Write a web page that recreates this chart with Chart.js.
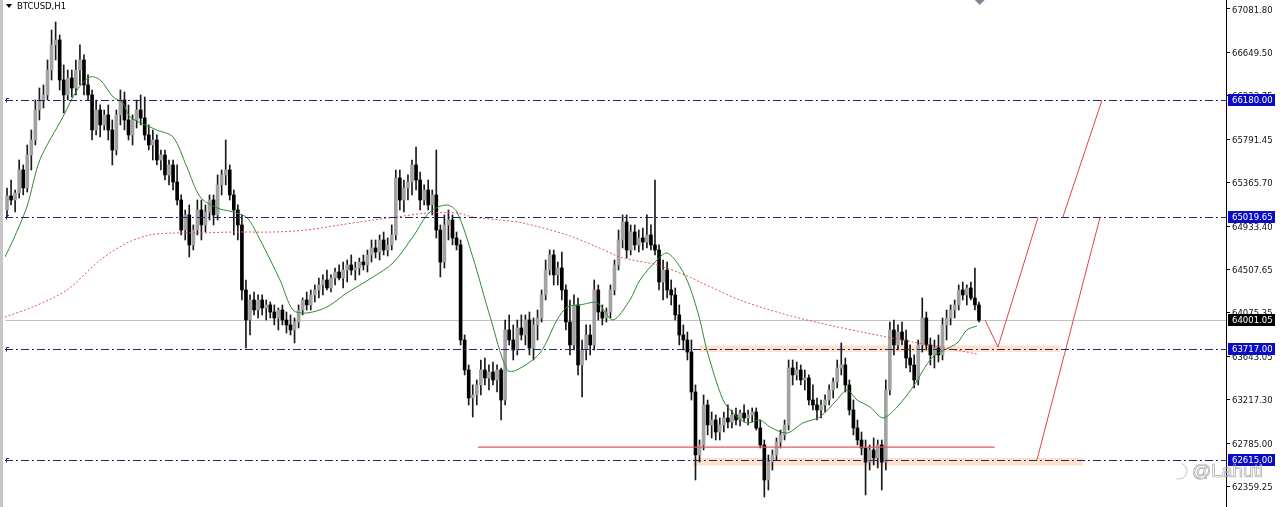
<!DOCTYPE html>
<html lang="en">
<head>
<meta charset="UTF-8">
<title>BTCUSD,H1</title>
<script src="https://cdn.jsdelivr.net/npm/chart.js"></script>
<style>
  html, body { margin: 0; padding: 0; background: #fff; }
  #wrap { width: 1280px; height: 507px; position: relative; }
</style>
</head>
<body>
<div id="wrap"><canvas id="chart"></canvas></div>
<script>
// H1 candles (index 0 = leftmost bar)
const opens = [
  65092,65231,65191,65260,65488,65310,65637,65785,66082,66181,66231,66478,66726,66775,66379,66231,66399,66300,66478,66577,
  66330,66231,65884,66082,65934,66033,65884,65686,66033,66181,65983,65835,65983,66082,66003,65835,65736,65785,65587,65637,
  65439,65538,65369,65191,64894,65043,64746,64894,65092,64944,65072,65191,65043,65340,65439,65488,65241,65092,64944,64300,
  64003,64201,64102,64201,64122,64152,64082,64023,64102,64003,63954,63904,63983,64102,64201,64152,64251,64300,64350,64399,
  64320,64419,64478,64419,64498,64548,64498,64518,64577,64548,64647,64716,64676,64795,64696,64746,64845,65409,65191,65310,
  65369,65538,65389,65191,65290,65142,65241,64894,64577,64944,64993,64815,64746,63805,63508,63231,63261,63360,63508,63429,
  63488,63409,63508,63211,63904,63805,63706,63924,63855,64003,63726,63954,64023,64251,64498,64647,64449,64518,64300,63983,
  63756,64152,63558,63706,63855,63756,64300,64082,64023,64082,64300,64548,64795,64973,64696,64874,64746,64815,64775,64845,
  64746,64696,64379,64498,64300,64251,64053,63855,63805,63686,63290,62667,62766,63162,62964,63013,62894,62964,63033,62993,
  63063,63013,63082,63033,63063,63092,62934,62766,62419,62597,62667,62795,62865,62964,63528,63459,63508,63409,63429,63211,
  63162,63112,63162,63211,63310,63389,63528,63558,63360,63112,62934,62815,62736,62597,62716,62637,62766,62597,63310,63904,
  63756,63884,63805,63627,63558,63409,63756,64023,63756,63657,63726,63657,63954,64023,64102,64152,64300,64251,64320,64221,
  64152
];
const highs = [
  65310,65389,65290,65587,65538,65736,65884,66181,66300,66330,66577,66874,66953,66825,66528,66478,66478,66577,66726,66627,
  66429,66280,66181,66132,66082,66132,65983,66082,66280,66260,66132,66033,66181,66231,66211,65934,65884,65835,65686,65686,
  65587,65587,65538,65241,65092,65142,64944,65191,65191,65142,65241,65241,65439,65488,65785,65538,65290,65142,65043,64399,
  64251,64280,64251,64251,64201,64181,64152,64122,64152,64082,64053,64023,64152,64221,64280,64300,64350,64419,64449,64498,
  64449,64518,64548,64577,64597,64647,64577,64617,64647,64696,64795,64795,64845,64874,64815,64944,65488,65488,65389,65439,
  65587,65716,65468,65340,65389,65290,65686,64944,65043,65092,65043,64874,64795,63855,63558,63360,63409,63607,63627,63558,
  63587,63558,63528,64003,64053,63954,64003,64053,64053,64082,64023,64102,64300,64597,64696,64696,64577,64676,64350,64201,
  64251,64221,63805,63954,63954,64399,64350,64152,64122,64350,64597,64894,65043,65043,64944,64944,64894,64914,65043,64944,
  65389,64746,64597,64577,64399,64320,64152,63954,63884,63805,63360,62815,63261,63211,63092,63063,63033,63092,63162,63112,
  63132,63112,63162,63112,63132,63132,63013,62815,62667,62716,62835,62914,63013,63607,63607,63587,63558,63508,63459,63360,
  63231,63211,63261,63360,63429,63607,63775,63627,63409,63211,63013,62894,62815,62766,62835,62815,62815,63409,63983,64003,
  63954,63983,63904,63756,63657,63805,64221,64082,63825,63805,63855,64023,64102,64152,64201,64350,64379,64350,64379,64518,
  64181
];
const lows = [
  65023,65142,65072,65211,65241,65270,65488,65736,65983,66102,66181,66379,66577,66280,66052,66181,66211,66231,66330,66231,
  66181,65785,65835,65815,65884,65785,65538,65637,65934,65884,65785,65736,65904,65934,65785,65686,65587,65538,65488,65389,
  65340,65290,65142,64845,64795,64627,64696,64845,64795,64874,64993,64944,64993,65241,65340,65191,64845,64795,64201,63726,
  63855,64053,64023,64053,64003,64023,63954,63904,63954,63874,63855,63775,63924,64053,64102,64102,64181,64221,64251,64300,
  64280,64350,64399,64320,64379,64449,64399,64449,64498,64478,64577,64617,64597,64647,64637,64696,64795,65092,65072,65191,
  65241,65290,65092,65142,65092,65043,64815,64429,64518,64795,64746,64696,63756,63459,63162,63043,63162,63261,63360,63310,
  63360,63290,63013,63162,63756,63607,63657,63805,63756,63657,63607,63805,63983,64201,64449,64350,64350,64201,63904,63657,
  63706,63459,63241,63607,63657,63706,64003,63954,63983,64023,64251,64498,64716,64617,64647,64696,64676,64696,64716,64696,
  64647,64300,64201,64221,64152,64003,63756,63706,63607,63211,62419,62597,62716,62865,62835,62815,62815,62894,62934,62934,
  62964,62954,62993,62964,62993,62914,62736,62251,62320,62518,62617,62736,62815,62914,63360,63409,63360,63310,63162,63112,
  63013,63033,63092,63162,63231,63330,63459,63290,63063,62865,62766,62667,62271,62518,62568,62538,62320,62518,63261,63657,
  63706,63756,63528,63488,63330,63360,63686,63706,63558,63528,63587,63607,63805,63954,64023,64102,64201,64152,64201,64102,
  63983
];
const closes = [
  65231,65191,65260,65488,65310,65637,65785,66082,66181,66231,66478,66726,66775,66379,66231,66399,66300,66478,66577,66330,
  66231,65884,66082,65934,66033,65884,65686,66033,66181,65983,65835,65983,66082,66003,65835,65736,65785,65587,65637,65439,
  65538,65369,65191,64894,65043,64746,64894,65092,64944,65072,65191,65043,65340,65439,65488,65241,65092,64944,64300,64003,
  64201,64102,64201,64122,64152,64082,64023,64102,64003,63954,63904,63983,64102,64201,64152,64251,64300,64350,64399,64320,
  64419,64478,64419,64498,64548,64498,64518,64577,64548,64647,64716,64676,64795,64696,64746,64845,65409,65191,65310,65369,
  65538,65389,65191,65290,65142,65241,64894,64577,64944,64993,64815,64746,63805,63508,63231,63261,63360,63508,63429,63488,
  63409,63508,63211,63904,63805,63706,63924,63855,64003,63726,63954,64023,64251,64498,64647,64449,64518,64300,63983,63756,
  64152,63558,63706,63855,63756,64300,64082,64023,64082,64300,64548,64795,64973,64696,64874,64746,64815,64775,64845,64746,
  64696,64379,64498,64300,64251,64053,63855,63805,63686,63290,62667,62766,63162,62964,63013,62894,62964,63033,62993,63063,
  63013,63082,63033,63063,63092,62934,62766,62419,62597,62667,62795,62865,62964,63528,63459,63508,63409,63429,63211,63162,
  63112,63162,63211,63310,63389,63528,63558,63360,63112,62934,62815,62736,62597,62716,62637,62766,62597,63310,63904,63756,
  63884,63805,63627,63558,63409,63756,64023,63756,63657,63726,63657,63954,64023,64102,64152,64300,64251,64320,64221,64152,
  64001.05
];

// moving averages, [bar index, price]
const maFast = [
  [-0.5,64627],[1.5,64795],[4.9,65122],[8.1,65587],[13.8,66013],[17.3,66280],[20.5,66409],[23,66379],[26.2,66211],
  [28.6,66151],[30.4,66013],[37,65884],[41,65815],[44.4,65518],[47.7,65221],[51.9,65112],[55.8,65072],[59.3,65013],
  [62.5,64795],[67.4,64399],[70.6,64102],[74,64072],[79,64132],[83.9,64270],[90.4,64429],[95.3,64567],[100.2,64825],
  [104.4,65072],[108.6,65142],[111.1,65072],[115,64627],[119.3,64033],[123.5,63508],[125.9,63508],[131.6,63676],
  [135.8,64003],[138.3,64132],[141.5,64152],[145.7,64172],[149.6,64003],[153.8,64201],[156.3,64399],[160.5,64597],
  [163,64666],[166.2,64528],[168.6,64330],[171.1,64003],[172.8,63706],[176.8,63211],[179.3,63082],[182.7,62983],
  [185.9,63013],[188.4,62944],[192.6,62884],[196.5,62983],[200.7,63043],[204.9,63211],[207.4,63310],[209.9,63211],
  [213.1,63142],[216.3,63033],[219.8,63142],[223.7,63340],[228.6,63637],[234.6,63775],[237,63904],[239.5,63944]
];
const maSlow = [
  [-0.5,64033],[6.4,64132],[14.8,64300],[23,64597],[29.6,64765],[35.3,64845],[41,64864],[47.7,64864],[55.8,64874],
  [65.7,64874],[74,64894],[82.2,64944],[90.4,64993],[96.3,65023],[103.7,65062],[111.1,65062],[115,65023],[121.7,64993],
  [127.4,64963],[138.3,64845],[145.7,64726],[152.1,64617],[160.5,64548],[168.6,64429],[171.1,64379],[181,64201],
  [190.9,64072],[200.7,63973],[212.3,63874],[223.7,63785],[230.4,63736],[239.5,63666]
];

// drawn objects
const levels = [66180.00, 65019.65, 63717.00, 62615.00];
const lastPrice = 64001.05;
const supportLine = [[116.3,62745],[243.9,62745]];
const projA = [[241.5,64003],[244.7,63735],[254.6,65019.65]];
const projB = [[260.7,65019.65],[270.4,66180]];
const projC = [[254.3,62615],[269.9,65019.65]];
// zones: [from bar, to bar, low, high]
const zones = [[171.1,260,63686,63752],[169.4,265.7,62562,62637]];
const shiftBar = 240.2;

const yTicks = [67081.80,66649.50,66223.75,65791.45,65365.70,64933.40,64507.65,64075.35,63643.05,63217.30,62785.00,62359.25];

const bull = '#a2a2a2', bear = '#000000';
const pts = arr => arr.map(p => ({x: p[0], y: p[1]}));

const overlay = {
  id: 'overlay',
  beforeDatasetsDraw(chart) {
    const {ctx, chartArea: a, scales: {x, y}} = chart;
    ctx.save();
    ctx.fillStyle = '#c6c6c6';
    ctx.fillRect(0, 0, 3, chart.height);
    ctx.fillStyle = '#fde3cb';
    zones.forEach(z => {
      const x0 = x.getPixelForValue(z[0]), x1 = x.getPixelForValue(z[1]);
      const y0 = y.getPixelForValue(z[3]), y1 = y.getPixelForValue(z[2]);
      ctx.fillRect(x0, y0, x1 - x0, y1 - y0);
    });
    const yc = Math.round(y.getPixelForValue(lastPrice)) + 0.5;
    ctx.strokeStyle = '#c2c2c2';
    ctx.lineWidth = 1;
    ctx.beginPath(); ctx.moveTo(a.left, yc); ctx.lineTo(a.right, yc); ctx.stroke();
    ctx.restore();
  },
  afterDatasetsDraw(chart) {
    const {ctx, chartArea: a, scales: {y}} = chart;
    ctx.save();
    ctx.strokeStyle = '#24246e';
    ctx.lineWidth = 1;
    levels.forEach(v => {
      const yy = Math.round(y.getPixelForValue(v)) + 0.5;
      ctx.setLineDash([8, 3, 2, 3]);
      ctx.beginPath(); ctx.moveTo(a.left, yy); ctx.lineTo(a.right, yy); ctx.stroke();
      ctx.setLineDash([]);
      ctx.beginPath(); ctx.moveTo(a.left + 1.5, yy + 2); ctx.lineTo(a.left + 1.5, yy - 2); ctx.lineTo(a.left + 4, yy - 2); ctx.stroke();
    });
    ctx.restore();
  },
  afterDraw(chart) {
    const {ctx, chartArea: a, scales: {x, y}} = chart;
    ctx.save();
    ctx.font = '8.5px "DejaVu Sans"';
    ctx.textBaseline = 'middle';
    const box = (v, bg) => {
      const yy = Math.round(y.getPixelForValue(v));
      ctx.fillStyle = bg;
      ctx.fillRect(a.right + 2, yy - 6, 47, 12);
      ctx.fillStyle = '#fff';
      ctx.fillText(v.toFixed(2), a.right + 6, yy + 0.5);
    };
    levels.forEach(v => box(v, '#0c0cc4'));
    box(lastPrice, '#000');

    // header
    ctx.fillStyle = '#000';
    ctx.beginPath(); ctx.moveTo(6, 4); ctx.lineTo(12, 4); ctx.lineTo(9, 8); ctx.closePath(); ctx.fill();
    ctx.fillText('BTCUSD,H1', 17, 7);

    // chart shift marker
    const sx = x.getPixelForValue(shiftBar);
    ctx.fillStyle = '#7d8996';
    ctx.beginPath(); ctx.moveTo(sx, -5); ctx.lineTo(sx + 5, 0); ctx.lineTo(sx, 5); ctx.lineTo(sx - 5, 0); ctx.closePath(); ctx.fill();

    // watermark
    ctx.strokeStyle = '#a6a6a6';
    ctx.lineWidth = 0.7;
    ctx.beginPath(); ctx.arc(1179, 471, 8, -1.2, 1.9); ctx.stroke();
    ctx.font = '19px "Liberation Sans"';
    ctx.strokeText('@Lahuti', 1192, 472);
    ctx.restore();
  }
};

new Chart(document.getElementById('chart'), {
  type: 'bar',
  data: {
    datasets: [
      {
        type: 'line', data: pts(maFast), borderColor: '#2f8a2f', borderWidth: 1,
        pointRadius: 0, tension: 0.3, order: 0
      },
      {
        type: 'line', data: pts(maSlow), borderColor: '#e25555', borderWidth: 1,
        borderDash: [2, 2], pointRadius: 0, tension: 0.3, order: 0
      },
      { type: 'line', data: pts(supportLine), borderColor: '#e05a5a', borderWidth: 1.2, pointRadius: 0, order: 0 },
      { type: 'line', data: pts(projA), borderColor: '#e5404a', borderWidth: 1, pointRadius: 0, order: 0 },
      { type: 'line', data: pts(projB), borderColor: '#e5404a', borderWidth: 1, pointRadius: 0, order: 0 },
      { type: 'line', data: pts(projC), borderColor: '#e5404a', borderWidth: 1, pointRadius: 0, order: 0 },
      {
        label: 'bodies',
        data: closes.map((c, i) => ({x: i, y: [opens[i], c]})),
        backgroundColor: closes.map((c, i) => c >= opens[i] ? bull : bear),
        barThickness: 3, minBarLength: 1, grouped: false, order: 1
      },
      {
        label: 'wicks',
        data: highs.map((h, i) => ({x: i, y: [lows[i], h]})),
        backgroundColor: '#1a1a1a',
        barThickness: 1, grouped: false, order: 2
      }
    ]
  },
  options: {
    responsive: true,
    maintainAspectRatio: false,
    animation: false,
    events: [],
    layout: { padding: { left: 5, right: 0, top: 0, bottom: 0 } },
    plugins: { legend: { display: false }, tooltip: { enabled: false } },
    scales: {
      x: {
        type: 'linear', min: -0.5, max: 301, offset: false,
        display: false, grid: { display: false }
      },
      y: {
        type: 'linear', position: 'right',
        min: 62151.6, max: 67170.9,
        afterBuildTicks: s => { s.ticks = yTicks.map(v => ({value: v})); },
        afterFit: s => { s.width = 54; s.paddingTop = 0; s.paddingBottom = 0; },
        ticks: {
          autoSkip: false, padding: 2, color: '#111', labelOffset: 1.5,
          font: { family: 'DejaVu Sans', size: 8.5 },
          callback: v => v.toFixed(2)
        },
        grid: { drawOnChartArea: false, drawTicks: true, tickLength: 4, color: '#000' },
        border: { display: true, color: '#000' }
      }
    }
  },
  plugins: [overlay]
});
</script>
</body>
</html>
